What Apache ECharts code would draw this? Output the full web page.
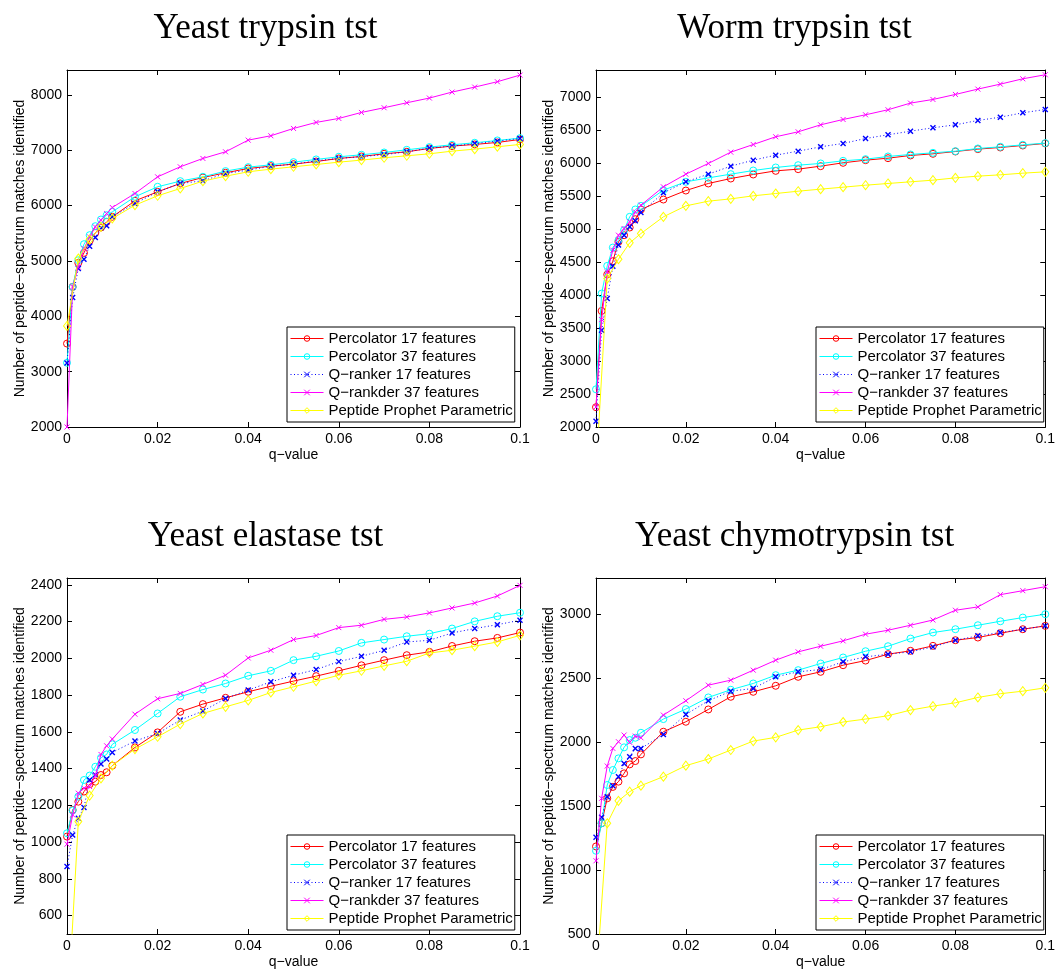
<!DOCTYPE html>
<html><head><meta charset="utf-8">
<script src="https://cdn.jsdelivr.net/npm/echarts@6/dist/echarts.min.js"></script>
<style>html,body{margin:0;padding:0;background:#fff}#c{width:1058px;height:972px}</style>
</head><body><div id="c"></div>
<script>
// ---------- data ----------
const qValues = [0, 0.00125, 0.0025, 0.00375, 0.005, 0.00625, 0.0075, 0.00875, 0.01, 0.015, 0.02, 0.025, 0.03, 0.035, 0.04, 0.045, 0.05, 0.055, 0.06, 0.065, 0.07, 0.075, 0.08, 0.085, 0.09, 0.095, 0.1];
const qValuesPP = [0, 0.0025, 0.005, 0.0075, 0.01, 0.015, 0.02, 0.025, 0.03, 0.035, 0.04, 0.045, 0.05, 0.055, 0.06, 0.065, 0.07, 0.075, 0.08, 0.085, 0.09, 0.095, 0.1];
const seriesNames = ['Percolator 17 features', 'Percolator 37 features', 'Q\u2212ranker 17 features', 'Q\u2212rankder 37 features', 'Peptide Prophet Parametric'];
const panelTitles = ['Yeast trypsin tst', 'Worm trypsin tst', 'Yeast elastase tst', 'Yeast chymotrypsin tst'];
const xTicks = [0, 0.02, 0.04, 0.06, 0.08, 0.1];

// Yeast trypsin
const ytPerc17 = [3507, 4531, 4965, 5146, 5363, 5508, 5604, 5707, 5797, 6086, 6249, 6400, 6508, 6593, 6671, 6713, 6749, 6797, 6852, 6888, 6936, 6972, 7033, 7075, 7105, 7141, 7195];
const ytPerc37 = [3160, 4531, 5013, 5303, 5466, 5628, 5749, 5827, 5887, 6159, 6340, 6442, 6520, 6623, 6695, 6737, 6785, 6834, 6882, 6918, 6960, 7008, 7057, 7099, 7135, 7177, 7219];
const ytQr17 = [3157, 4338, 4863, 5031, 5267, 5423, 5598, 5634, 5797, 6038, 6249, 6400, 6448, 6581, 6641, 6713, 6749, 6810, 6852, 6885, 6920, 6972, 7040, 7075, 7120, 7165, 7213];
const ytQr37 = [2000, 4531, 4890, 5224, 5435, 5616, 5737, 5857, 5966, 6219, 6520, 6701, 6852, 6972, 7183, 7262, 7394, 7503, 7575, 7683, 7768, 7858, 7943, 8051, 8141, 8238, 8358];
const ytPP = [3826, 5044, 5387, 5616, 5767, 6008, 6177, 6309, 6442, 6532, 6611, 6659, 6701, 6743, 6785, 6822, 6864, 6900, 6936, 6984, 7020, 7063, 7105];
const ytYTicks = [2000, 3000, 4000, 5000, 6000, 7000, 8000];
const ytYRange = [2000, 8450];

// Worm trypsin
const wtPerc17 = [2300, 3757, 4308, 4510, 4803, 4904, 5020, 5146, 5293, 5444, 5580, 5687, 5762, 5823, 5878, 5904, 5949, 6000, 6040, 6070, 6111, 6136, 6171, 6207, 6232, 6262, 6293];
const wtPerc37 = [2571, 4020, 4439, 4717, 4828, 4980, 5182, 5293, 5348, 5586, 5712, 5772, 5828, 5883, 5929, 5964, 5990, 6030, 6055, 6096, 6126, 6151, 6176, 6217, 6242, 6272, 6298];
const wtQr17 = [2086, 3465, 3944, 4434, 4757, 4904, 5030, 5121, 5247, 5545, 5712, 5828, 5949, 6040, 6116, 6176, 6242, 6293, 6368, 6424, 6479, 6530, 6575, 6641, 6691, 6757, 6808];
const wtQr37 = [2303, 3626, 4348, 4677, 4904, 5005, 5106, 5257, 5358, 5636, 5828, 5990, 6161, 6277, 6394, 6469, 6575, 6656, 6727, 6803, 6904, 6959, 7035, 7116, 7191, 7272, 7333];
const wtPP = [1300, 4247, 4540, 4788, 4929, 5182, 5348, 5419, 5454, 5500, 5535, 5570, 5601, 5631, 5661, 5687, 5712, 5737, 5772, 5798, 5818, 5843, 5863];
const wtYTicks = [2000, 2500, 3000, 3500, 4000, 4500, 5000, 5500, 6000, 6500, 7000];
const wtYRange = [2000, 7405];

// Yeast elastase
const yePerc17 = [1030, 1175, 1220, 1275, 1315, 1329, 1365, 1380, 1416, 1515, 1597, 1709, 1751, 1785, 1818, 1848, 1876, 1903, 1932, 1962, 1990, 2017, 2035, 2067, 2093, 2111, 2140];
const yePerc37 = [1048, 1172, 1248, 1338, 1362, 1410, 1459, 1477, 1532, 1610, 1700, 1791, 1830, 1863, 1905, 1932, 1990, 2011, 2040, 2084, 2102, 2120, 2134, 2162, 2201, 2229, 2248];
const yeQr17 = [867, 1039, 1130, 1188, 1338, 1365, 1425, 1452, 1488, 1550, 1591, 1664, 1713, 1781, 1827, 1872, 1908, 1939, 1982, 2011, 2044, 2089, 2098, 2138, 2162, 2183, 2207];
const yeQr37 = [989, 1148, 1266, 1293, 1302, 1362, 1477, 1524, 1561, 1696, 1780, 1809, 1858, 1908, 2002, 2044, 2102, 2124, 2167, 2180, 2212, 2225, 2247, 2274, 2301, 2339, 2397];
const yePP = [0, 1112, 1253, 1347, 1416, 1506, 1573, 1642, 1700, 1736, 1771, 1814, 1845, 1876, 1908, 1932, 1959, 1984, 2029, 2044, 2066, 2089, 2125];
const yeYTicks = [600, 800, 1000, 1200, 1400, 1600, 1800, 2000, 2200, 2400];
const yeYRange = [500, 2437];

// Yeast chymotrypsin
const ycPerc17 = [1184, 1365, 1560, 1649, 1690, 1755, 1825, 1851, 1903, 2080, 2158, 2254, 2353, 2392, 2439, 2509, 2548, 2600, 2636, 2686, 2712, 2751, 2795, 2816, 2850, 2881, 2907];
const ycPerc37 = [1150, 1365, 1664, 1781, 1872, 1958, 2015, 2033, 2072, 2179, 2257, 2348, 2408, 2457, 2522, 2561, 2613, 2660, 2709, 2748, 2808, 2855, 2881, 2912, 2943, 2972, 2998];
const ycQr17 = [1256, 1412, 1573, 1659, 1729, 1831, 1885, 1950, 1950, 2059, 2215, 2322, 2397, 2418, 2509, 2548, 2566, 2626, 2665, 2686, 2704, 2743, 2795, 2829, 2855, 2881, 2907];
const ycQr37 = [1072, 1560, 1812, 1950, 2002, 2054, 1997, 2046, 2033, 2210, 2322, 2444, 2483, 2561, 2639, 2704, 2748, 2790, 2842, 2873, 2912, 2953, 3029, 3055, 3151, 3182, 3213];
const ycPP = [100, 1365, 1540, 1612, 1659, 1729, 1815, 1867, 1937, 2007, 2036, 2093, 2119, 2156, 2179, 2205, 2249, 2280, 2306, 2348, 2377, 2397, 2423];
const ycYTicks = [500, 1000, 1500, 2000, 2500, 3000];
const ycYRange = [500, 3281];

// ---------- layout / style ----------
const panels = [
  {title: panelTitles[0], series: [ytPerc17, ytPerc37, ytQr17, ytQr37, ytPP], yTicks: ytYTicks, yRange: ytYRange, left: 67, top: 70, height: 357},
  {title: panelTitles[1], series: [wtPerc17, wtPerc37, wtQr17, wtQr37, wtPP], yTicks: wtYTicks, yRange: wtYRange, left: 596, top: 70, height: 357},
  {title: panelTitles[2], series: [yePerc17, yePerc37, yeQr17, yeQr37, yePP], yTicks: yeYTicks, yRange: yeYRange, left: 67, top: 578, height: 356},
  {title: panelTitles[3], series: [ycPerc17, ycPerc37, ycQr17, ycQr37, ycPP], yTicks: ycYTicks, yRange: ycYRange, left: 596, top: 578, height: 356}
];
const GRID_W = 453;
const SANS = 'Liberation Sans, Arial, Helvetica, sans-serif';
const SERIF = 'Liberation Serif, Times New Roman, serif';
const XPATH = 'path://M0,0L10,10M10,0L0,10';
const styles = [
  {color: '#ff0000', symbol: 'circle', size: 7, lineType: 'solid', bw: 1},
  {color: '#00ffff', symbol: 'circle', size: 7, lineType: 'solid', bw: 1},
  {color: '#0000ff', symbol: XPATH, size: 5, lineType: [1, 2.5], bw: 1.4},
  {color: '#ff00ff', symbol: XPATH, size: 5, lineType: 'solid', bw: 1},
  {color: '#ffff00', symbol: 'diamond', size: [7, 9], lineType: 'solid', bw: 1}
];

const grids = [], xAxes = [], yAxes = [], series = [], legends = [], titles = [];
const plainNum = v => String(v);
const axisCommon = {
  axisLine: {show: true, onZero: false, lineStyle: {color: '#000', width: 1}},
  splitLine: {show: false},
  axisLabel: {color: '#000', fontSize: 14, fontFamily: SANS, margin: 5, formatter: plainNum}
};
panels.forEach((p, i) => {
  grids.push({left: p.left, top: p.top, width: GRID_W, height: p.height, containLabel: false});
  titles.push({text: p.title, left: p.left + GRID_W / 2 - 33, top: p.top - 64, textAlign: 'center',
    textStyle: {fontFamily: SERIF, fontSize: 35, fontWeight: 'normal', color: '#000'}});
  // bottom x
  xAxes.push(Object.assign({}, axisCommon, {
    gridIndex: i, type: 'value', position: 'bottom', min: 0, max: 0.1, interval: 0.02,
    axisTick: {inside: true, length: 5, lineStyle: {color: '#000'}},
    axisLabel: Object.assign({}, axisCommon.axisLabel, {customValues: xTicks}),
    name: 'q\u2212value', nameLocation: 'middle', nameGap: 21, nameMoveOverlap: false,
    nameTextStyle: {color: '#000', fontSize: 14, fontFamily: SANS}
  }));
  // top x (ticks only)
  xAxes.push(Object.assign({}, axisCommon, {
    gridIndex: i, type: 'value', position: 'top', min: 0, max: 0.1, interval: 0.02,
    axisTick: {inside: true, length: 5, lineStyle: {color: '#000'}},
    axisLabel: {show: false}
  }));
  // left y
  yAxes.push(Object.assign({}, axisCommon, {
    gridIndex: i, type: 'value', position: 'left', min: p.yRange[0], max: p.yRange[1],
    axisTick: {inside: true, length: 5, lineStyle: {color: '#000'}, customValues: p.yTicks},
    axisLabel: Object.assign({}, axisCommon.axisLabel, {customValues: p.yTicks}),
    name: 'Number of peptide\u2212spectrum matches identified', nameLocation: 'middle', nameGap: 40,
    nameMoveOverlap: false,
    nameTextStyle: {color: '#000', fontSize: 14, fontFamily: SANS}
  }));
  // right y (ticks only)
  yAxes.push(Object.assign({}, axisCommon, {
    gridIndex: i, type: 'value', position: 'right', min: p.yRange[0], max: p.yRange[1],
    axisTick: {inside: true, length: 5, lineStyle: {color: '#000'}, customValues: p.yTicks},
    axisLabel: {show: false}
  }));
  p.series.forEach((vals, k) => {
    const st = styles[k];
    const xs = k === 4 ? qValuesPP : qValues;
    series.push({
      type: 'line', name: seriesNames[k], xAxisIndex: 2 * i, yAxisIndex: 2 * i,
      data: xs.map((x, j) => [x, vals[j]]),
      symbol: st.symbol, symbolSize: st.size, showSymbol: true, showAllSymbol: true,
      lineStyle: {color: st.color, width: 1, type: st.lineType},
      itemStyle: {color: 'rgba(255,255,255,0)', borderColor: st.color, borderWidth: st.bw},
      emphasis: {disabled: true}, clip: true, animation: false, z: 2 + k
    });
  });
  legends.push({
    left: p.left + 220, top: p.top + 257, orient: 'vertical', data: seriesNames,
    backgroundColor: '#fff', borderColor: '#000', borderWidth: 1, padding: [4, 2, 4, 3],
    itemGap: 3, itemWidth: 33, itemHeight: 7, selectedMode: false,
    lineStyle: {width: 1}, itemStyle: {borderWidth: 1},
    textStyle: {color: '#000', fontSize: 15, fontFamily: SANS}
  });
});

const chart = echarts.init(document.getElementById('c'), null, {renderer: 'canvas'});
chart.setOption({
  backgroundColor: '#fff', animation: false,
  title: titles, grid: grids, xAxis: xAxes, yAxis: yAxes, legend: legends, series: series
});
</script></body></html>
